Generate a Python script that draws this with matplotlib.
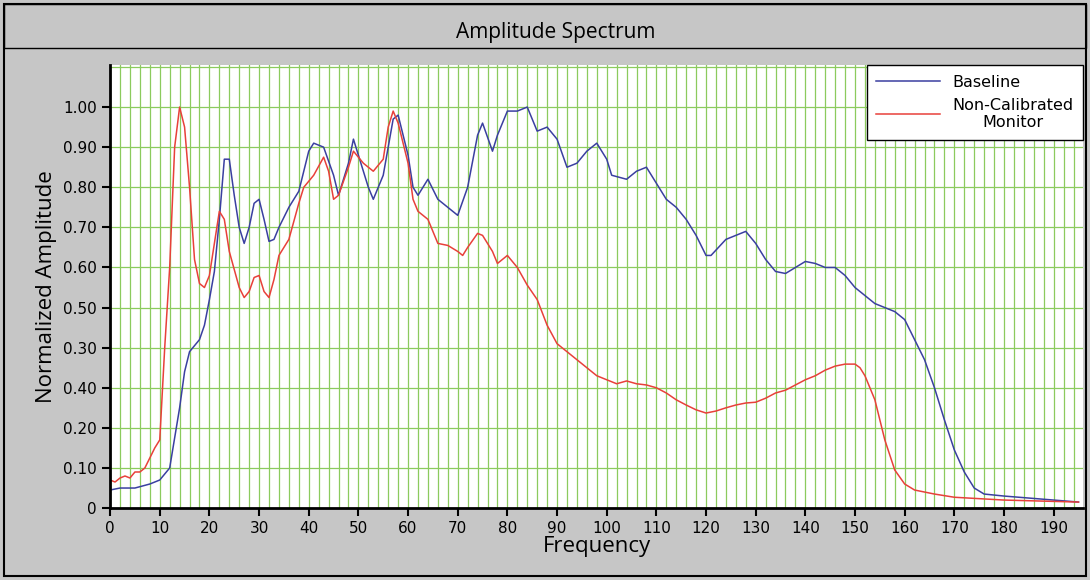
import matplotlib.pyplot as plt
from matplotlib.patches import Rectangle

base_f = [0, 2, 5, 8, 10, 12, 14, 15, 16, 18, 19, 20, 21, 22, 23, 24, 25, 26, 27, 28, 29, 30, 31, 32, 33, 34, 36, 38,
          40, 41, 43, 45, 46, 48, 49, 50, 52, 53, 55, 57, 58, 60, 61, 62, 64, 66, 68, 70, 72, 74, 75, 77, 78, 80, 82,
          84, 86, 88, 90, 92, 94, 96, 98, 100, 101, 104, 106, 108, 110, 112, 114, 116, 118, 120, 121, 124, 126, 128,
          130, 132, 134, 136, 138, 140, 142, 144, 146, 148, 150, 152, 154, 156, 158, 160, 162, 164, 166, 168, 170,
          172, 174, 176, 180, 190, 195]
base_a = [0.045, 0.05, 0.05, 0.06, 0.07, 0.10, 0.25, 0.34, 0.39, 0.42, 0.456, 0.52, 0.59, 0.72, 0.87, 0.87, 0.78, 0.70,
          0.66, 0.70, 0.76, 0.77, 0.72, 0.665, 0.67, 0.70, 0.75, 0.79, 0.89, 0.91, 0.90, 0.83, 0.78, 0.86, 0.92, 0.88,
          0.80, 0.77, 0.83, 0.97, 0.98, 0.88, 0.80, 0.78, 0.82, 0.77, 0.75, 0.73, 0.80, 0.93, 0.96, 0.89, 0.93, 0.99,
          0.99, 1.00, 0.94, 0.95, 0.92, 0.85, 0.86, 0.89, 0.91, 0.87, 0.83, 0.82, 0.84, 0.85, 0.81, 0.77, 0.75, 0.72,
          0.68, 0.63, 0.63, 0.67, 0.68, 0.69, 0.66, 0.62, 0.59, 0.585, 0.60, 0.615, 0.61, 0.60, 0.60, 0.58, 0.55,
          0.53, 0.51, 0.50, 0.49, 0.47, 0.42, 0.37, 0.30, 0.22, 0.145, 0.09, 0.05, 0.035, 0.03, 0.02, 0.015]

mon_f = [0, 1, 2, 3, 4, 5, 6, 7, 9, 10, 11, 12, 13, 14, 15, 16, 17, 18, 19, 20, 22, 23, 24, 26, 27, 28, 29, 30, 31, 32,
         33, 34, 36, 38, 39, 41, 43, 44, 45, 46, 48, 49, 51, 53, 55, 56, 57, 58, 60, 61, 62, 64, 66, 68, 70, 71, 72,
         74, 75, 77, 78, 80, 82, 84, 86, 88, 90, 92, 94, 96, 98, 100, 102, 104, 106, 108, 110, 112, 114, 116, 118,
         120, 122, 124, 126, 128, 130, 132, 134, 136, 138, 140, 142, 144, 146, 148, 150, 151, 152, 154, 156, 158,
         160, 162, 166, 170, 180, 195]
mon_a = [0.07, 0.065, 0.075, 0.08, 0.075, 0.09, 0.09, 0.10, 0.15, 0.17, 0.40, 0.60, 0.90, 1.00, 0.95, 0.80, 0.62,
         0.56, 0.55, 0.58, 0.74, 0.72, 0.64, 0.55, 0.525, 0.54, 0.575, 0.58, 0.54, 0.525, 0.57, 0.63, 0.67, 0.76,
         0.80, 0.83, 0.875, 0.84, 0.77, 0.78, 0.85, 0.89, 0.86, 0.84, 0.87, 0.95, 0.99, 0.96, 0.86, 0.77, 0.74,
         0.72, 0.66, 0.655, 0.64, 0.63, 0.65, 0.685, 0.68, 0.64, 0.61, 0.63, 0.60, 0.556, 0.52, 0.456, 0.41, 0.39,
         0.37, 0.35, 0.33, 0.32, 0.31, 0.317, 0.31, 0.307, 0.30, 0.287, 0.27, 0.257, 0.245, 0.237, 0.242, 0.25,
         0.257, 0.262, 0.264, 0.274, 0.287, 0.294, 0.307, 0.32, 0.33, 0.344, 0.354, 0.359, 0.359, 0.35, 0.33, 0.27,
         0.17, 0.095, 0.06, 0.045, 0.035, 0.027, 0.02, 0.015]

x_ticks = list(range(0, 200, 10))
y_ticks = [0, 0.1, 0.2, 0.3, 0.4, 0.5, 0.6, 0.7, 0.8, 0.9, 1.0]
# labels as printed in the original (0.30 / 0.40 appear swapped)
y_labels = ["0", "0.10", "0.20", "0.40", "0.30", "0.50", "0.60", "0.70", "0.80", "0.90", "1.00"]

fig = plt.figure(figsize=(10.9, 5.8), dpi=100, facecolor="#c6c6c6")
fig.patches.append(Rectangle((0.004, 0.007), 0.992, 0.986, transform=fig.transFigure,
                             fill=False, edgecolor="black", lw=1.5))
fig.patches.append(Rectangle((0.004, 0.918), 0.992, 0.075, transform=fig.transFigure,
                             fill=False, edgecolor="black", lw=1.0))
fig.text(0.51, 0.944, "Amplitude Spectrum", ha="center", va="center", fontsize=15, family="Open Sans")

ax = fig.add_axes([0.101, 0.124, 0.893, 0.764])
ax.set_facecolor("white")
ax.plot(base_f, base_a, color="#3a3fa0", lw=1.1, label="Baseline")
ax.plot(mon_f, mon_a, color="#e8403a", lw=1.1, label="Non-Calibrated\nMonitor")
ax.set_xlim(0, 196)
ax.set_ylim(0, 1.105)
for gx in range(2, 196, 2):
    ax.axvline(gx, color="#8ccb5e", lw=0.9, zorder=0)
for gy in y_ticks[1:] + [1.1]:
    ax.axhline(gy, color="#8ccb5e", lw=0.9, zorder=0)
ax.set_xticks(x_ticks)
ax.set_yticks(y_ticks)
ax.set_yticklabels(y_labels)
ax.tick_params(labelsize=11, length=6, width=1.5)
for s in ["top", "right"]:
    ax.spines[s].set_visible(False)
ax.spines["left"].set_linewidth(2)
ax.spines["bottom"].set_linewidth(2)
ax.set_xlabel("Frequency", fontsize=16, labelpad=0, family="Open Sans")
ax.set_ylabel("Normalized Amplitude", fontsize=16, family="Open Sans")
leg = ax.legend(loc="upper right", bbox_to_anchor=(1.0, 1.0), fontsize=11.5, fancybox=False,
                edgecolor="black", framealpha=1, handlelength=4, borderaxespad=0, borderpad=0.6)
for t in leg.get_texts():
    t.set_ha("center")

fig.savefig("out.png", dpi=100, facecolor=fig.get_facecolor())
